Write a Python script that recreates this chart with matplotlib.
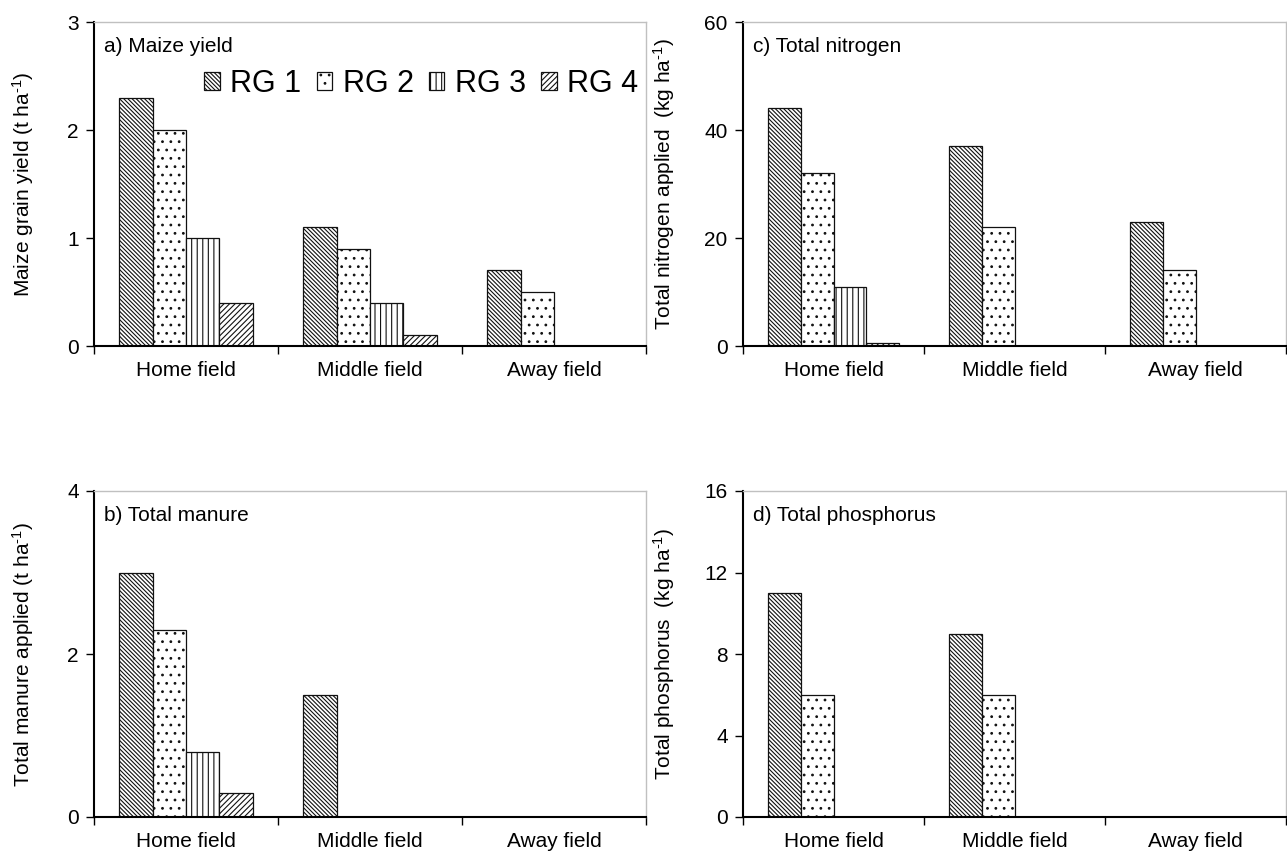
import matplotlib
matplotlib.use('Agg')
import matplotlib.pyplot as plt
import numpy as np

plt.rcParams['font.family'] = ['Liberation Sans', 'DejaVu Sans']
plt.rcParams['mathtext.fontset'] = 'custom'
plt.rcParams['mathtext.rm'] = 'Liberation Sans'
plt.rcParams['mathtext.default'] = 'regular'
plt.rcParams['hatch.linewidth'] = 0.8
plt.rcParams['hatch.color'] = '#3a3a3a'

fields = ['Home field', 'Middle field', 'Away field']
groups = ['RG 1', 'RG 2', 'RG 3', 'RG 4']
hatches = ['\\' * 8, '..', '|||', '/' * 6]

yield_vals = [[2.3, 1.1, 0.7], [2.0, 0.9, 0.5], [1.0, 0.4, 0.0], [0.4, 0.1, 0.0]]
manure_vals = [[3.0, 1.5, 0.0], [2.3, 0.0, 0.0], [0.8, 0.0, 0.0], [0.3, 0.0, 0.0]]
nitrogen_vals = [[44, 37, 23], [32, 22, 14], [11, 0, 0], [0.5, 0, 0]]
phosphorus_vals = [[11, 9, 0], [6, 6, 0], [0, 0, 0], [0, 0, 0]]

W, H = 1287, 852
FS = 15
UNIT_T = '(t ha$^{\\text{-1}}$)'
UNIT_KG = '(kg ha$^{\\text{-1}}$)'
fig = plt.figure(figsize=(W / 100, H / 100), dpi=100)


def px_axes(x0, y0, x1, y1):
    return fig.add_axes([x0 / W, 1 - y1 / H, (x1 - x0) / W, (y1 - y0) / H])


def panel(ax, vals, ymax, yticks, ylabel, title, label_x):
    x = np.arange(len(fields))
    bw = 0.182
    for i, (v, h) in enumerate(zip(vals, hatches)):
        ax.bar(x + (i - 1.5) * bw, v, bw, color='white', edgecolor='#111111',
               linewidth=0.9, hatch=h, label=groups[i])
    ax.set_xlim(-0.5, 2.5)
    ax.set_ylim(0, ymax)
    ax.set_yticks(yticks)
    ax.set_xticks(x)
    ax.set_xticklabels(fields)
    ax.set_xticks([-0.5, 0.5, 1.5, 2.5], minor=True)
    ax.tick_params(axis='x', which='major', length=0, pad=11, labelsize=FS)
    ax.tick_params(axis='x', which='minor', length=6, width=1, direction='out')
    ax.tick_params(axis='y', length=6, width=1, direction='out', labelsize=FS, pad=5)
    for s in ['top', 'right']:
        ax.spines[s].set_color('#c0c0c0')
        ax.spines[s].set_linewidth(1)
    for s in ['left', 'bottom']:
        ax.spines[s].set_linewidth(1.5)
    ax.set_ylabel(ylabel, fontsize=FS)
    ax.yaxis.set_label_coords(label_x, 0.5)
    ax.text(0.018, 0.955, title, transform=ax.transAxes, ha='left', va='top',
            fontsize=FS)


ax_a = px_axes(94, 22, 646, 346)
ax_c = px_axes(743, 22, 1286, 346)
ax_b = px_axes(94, 491, 646, 817)
ax_d = px_axes(743, 491, 1286, 817)

panel(ax_a, yield_vals, 3, [0, 1, 2, 3], 'Maize grain yield ' + UNIT_T,
      'a) Maize yield', -0.105)
panel(ax_c, nitrogen_vals, 60, [0, 20, 40, 60],
      'Total nitrogen applied  ' + UNIT_KG, 'c) Total nitrogen', -0.122)
panel(ax_b, manure_vals, 4, [0, 2, 4], 'Total manure applied ' + UNIT_T,
      'b) Total manure', -0.105)
panel(ax_d, phosphorus_vals, 16, [0, 4, 8, 12, 16],
      'Total phosphorus  ' + UNIT_KG, 'd) Total phosphorus', -0.122)

ax_a.legend(loc='upper left', bbox_to_anchor=(0.2, 0.855), ncol=4,
            frameon=False, fontsize=22, handlelength=0.5, handleheight=0.5,
            handletextpad=0.35, columnspacing=0.5, borderaxespad=0,
            borderpad=0)

fig.savefig('out.png', dpi=100)
